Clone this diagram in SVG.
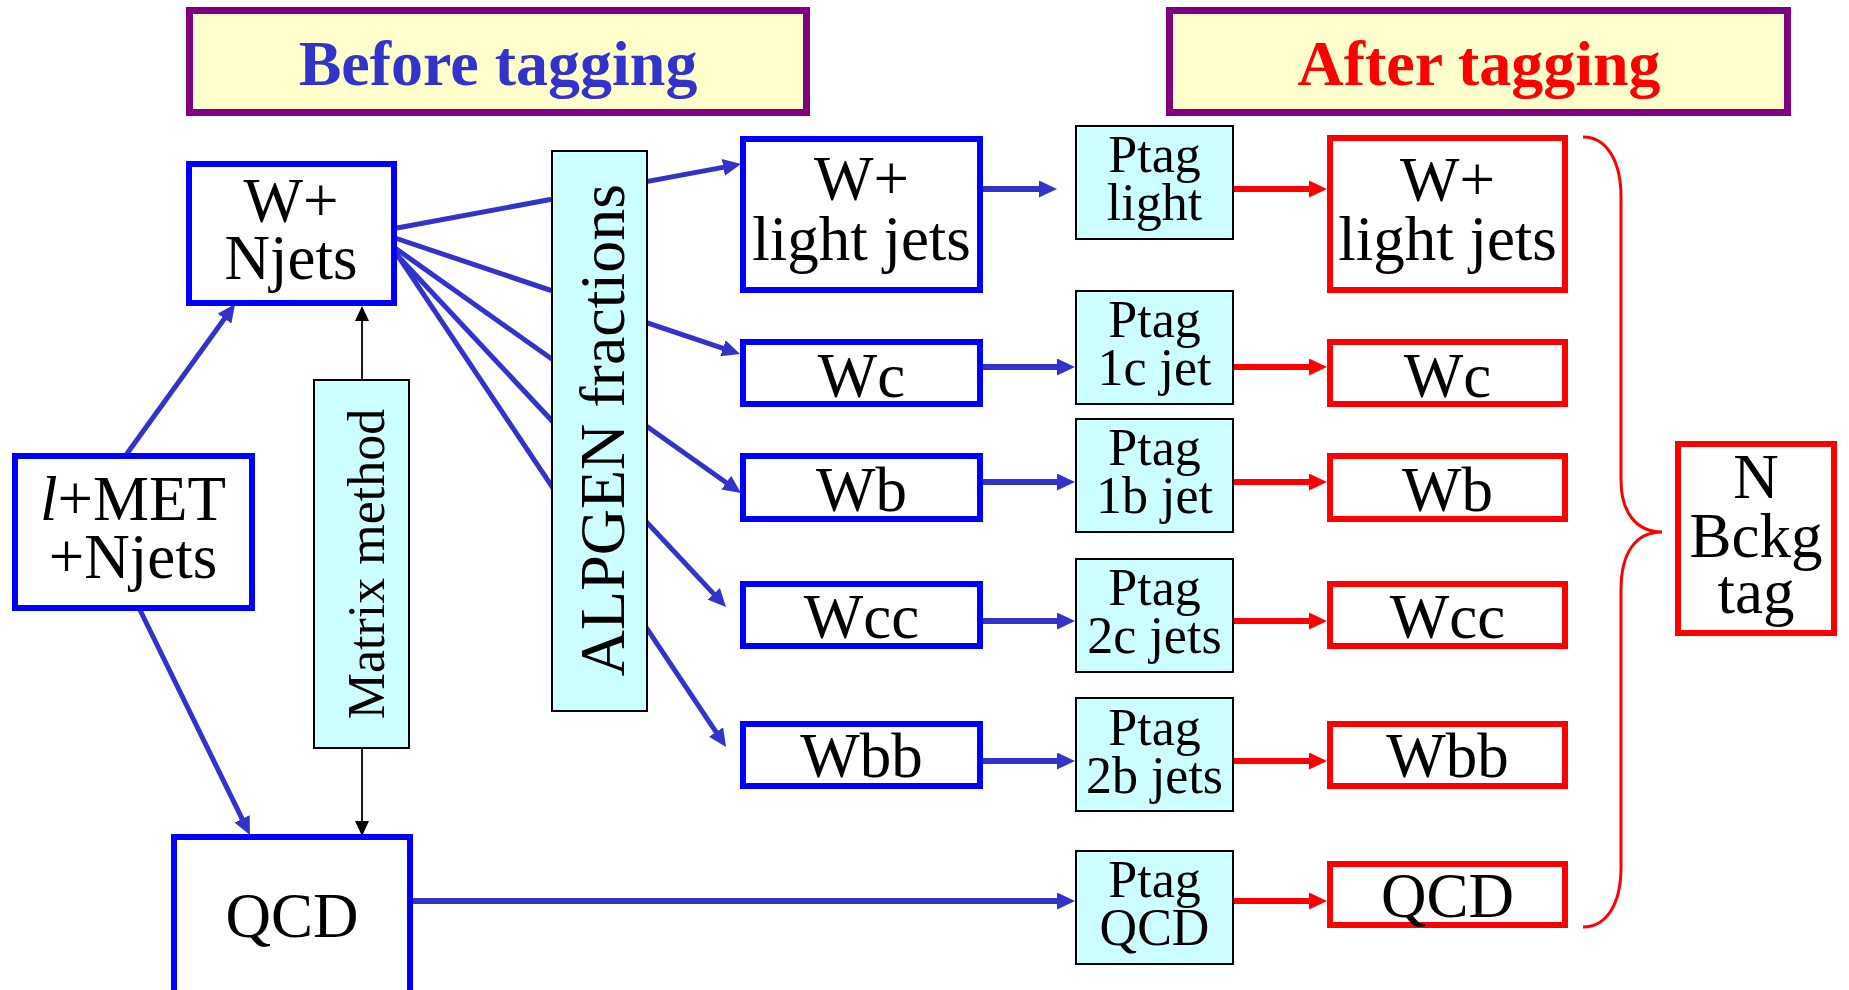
<svg xmlns="http://www.w3.org/2000/svg" width="1849" height="990" viewBox="0 0 1849 990">
<style>
text{font-family:"Liberation Serif","Times New Roman",serif;fill:#000;text-anchor:middle}
.title{font-weight:bold;font-size:64px}
.t63{font-size:63px}
.t52{font-size:52px}
.hdr{fill:#FFFFCC;stroke:#800080;stroke-width:7}
.bbox{fill:#fff;stroke:#0000FF;stroke-width:6}
.rbox{fill:#fff;stroke:#FF0000;stroke-width:6}
.cbox{fill:#CCFFFF;stroke:#000;stroke-width:2}
.bl{stroke:#3333CC;stroke-width:5;fill:none}
.blh{stroke:#3333CC;stroke-width:6;fill:none}
.rl{stroke:#FF0000;stroke-width:6;fill:none}
.kl{stroke:#000;stroke-width:1.8;fill:none}
</style>
<defs>
<marker id="ab" viewBox="0 0 18 17" refX="1" refY="8.5" markerWidth="18" markerHeight="17" markerUnits="userSpaceOnUse" orient="auto"><path d="M0,0 L18,8.5 L0,17 z" fill="#3333CC"/></marker>
<marker id="ar" viewBox="0 0 18 17" refX="1" refY="8.5" markerWidth="18" markerHeight="17" markerUnits="userSpaceOnUse" orient="auto"><path d="M0,0 L18,8.5 L0,17 z" fill="#FF0000"/></marker>
<marker id="ak" viewBox="0 0 15 14" refX="1" refY="7" markerWidth="15" markerHeight="14" markerUnits="userSpaceOnUse" orient="auto"><path d="M0,0 L15,7 L0,14 z" fill="#000"/></marker>
</defs>

<g id="connectors">
<line class="bl" x1="397" y1="228" x2="724.3" y2="167.1" marker-end="url(#ab)"/>
<line class="bl" x1="395" y1="238" x2="723.9" y2="348.6" marker-end="url(#ab)"/>
<line class="bl" x1="395" y1="248" x2="727.1" y2="483.2" marker-end="url(#ab)"/>
<line class="bl" x1="397" y1="255" x2="714.4" y2="594.6" marker-end="url(#ab)"/>
<line class="bl" x1="394" y1="250" x2="716.6" y2="732.9" marker-end="url(#ab)"/>
<line class="bl" x1="126" y1="455" x2="225.1" y2="317.8" marker-end="url(#ab)"/>
<line class="bl" x1="140" y1="610" x2="242.5" y2="819.7" marker-end="url(#ab)"/>
<line class="blh" x1="410" y1="901" x2="1058" y2="901" marker-end="url(#ab)"/>
<line class="blh" x1="983" y1="189" x2="1040" y2="189" marker-end="url(#ab)"/>
<line class="blh" x1="983" y1="367" x2="1058" y2="367" marker-end="url(#ab)"/>
<line class="blh" x1="983" y1="482" x2="1058" y2="482" marker-end="url(#ab)"/>
<line class="blh" x1="983" y1="621" x2="1058" y2="621" marker-end="url(#ab)"/>
<line class="blh" x1="983" y1="761" x2="1058" y2="761" marker-end="url(#ab)"/>
<line class="rl" x1="1234" y1="189" x2="1310" y2="189" marker-end="url(#ar)"/>
<line class="rl" x1="1234" y1="367" x2="1310" y2="367" marker-end="url(#ar)"/>
<line class="rl" x1="1234" y1="482" x2="1310" y2="482" marker-end="url(#ar)"/>
<line class="rl" x1="1234" y1="621" x2="1310" y2="621" marker-end="url(#ar)"/>
<line class="rl" x1="1234" y1="761" x2="1310" y2="761" marker-end="url(#ar)"/>
<line class="rl" x1="1234" y1="901" x2="1310" y2="901" marker-end="url(#ar)"/>
<line class="kl" x1="362" y1="379" x2="362" y2="320" marker-end="url(#ak)"/>
<line class="kl" x1="362" y1="748" x2="362" y2="822" marker-end="url(#ak)"/>
<path d="M1583,137 C1606,137 1621,160 1621,197 L1621,480 C1621,512 1636,532 1662,532 C1636,532 1621,552 1621,590 L1621,867 C1621,905 1606,927 1583,927" fill="none" stroke="#FF0000" stroke-width="3"/>
</g>

<g id="before-tagging"><rect class="hdr" x="189.5" y="10.5" width="617" height="102"/><text class="title" x="498" y="85" style="fill:#3333CC">Before tagging</text></g>
<g id="after-tagging"><rect class="hdr" x="1169.5" y="10.5" width="618" height="102"/><text class="title" x="1479" y="85" style="fill:#FF0000">After tagging</text></g>

<g id="wnjets"><rect class="bbox" x="189" y="164" width="205" height="139"/><text class="t63" x="291" y="222">W+</text><text class="t63" x="291" y="279">Njets</text></g>
<g id="lmet"><rect class="bbox" x="15" y="456" width="237" height="152"/><text class="t63" x="133" y="520"><tspan font-style="italic">l</tspan>+MET</text><text class="t63" x="133" y="578">+Njets</text></g>
<g id="qcd-before"><rect class="bbox" x="174" y="837" width="236" height="165"/><text class="t63" x="292" y="937">QCD</text></g>
<g id="matrix"><rect class="cbox" x="314" y="380" width="95" height="368"/><text class="t52" transform="translate(384,564) rotate(-90)">Matrix method</text></g>
<g id="alpgen"><rect class="cbox" x="552" y="151" width="95" height="560"/><text style="font-size:64px" transform="translate(624,430) rotate(-90)">ALPGEN fractions</text></g>

<g id="b-wlight"><rect class="bbox" x="743" y="139" width="237" height="151"/><text class="t63" x="861.5" y="200">W+</text><text class="t63" x="861.5" y="260">light jets</text></g>
<g id="b-wc"><rect class="bbox" x="743" y="342" width="237" height="62"/><text class="t63" x="861.5" y="397">Wc</text></g>
<g id="b-wb"><rect class="bbox" x="743" y="456" width="237" height="63"/><text class="t63" x="861.5" y="511">Wb</text></g>
<g id="b-wcc"><rect class="bbox" x="743" y="584" width="237" height="62"/><text class="t63" x="861.5" y="638">Wcc</text></g>
<g id="b-wbb"><rect class="bbox" x="743" y="724" width="237" height="62"/><text class="t63" x="861.5" y="777">Wbb</text></g>

<g id="p-light"><rect class="cbox" x="1076" y="126" width="157" height="113"/><text class="t52" x="1154.5" y="172">Ptag</text><text class="t52" x="1154.5" y="220">light</text></g>
<g id="p-1c"><rect class="cbox" x="1076" y="291" width="157" height="113"/><text class="t52" x="1154.5" y="337">Ptag</text><text class="t52" x="1154.5" y="385">1c jet</text></g>
<g id="p-1b"><rect class="cbox" x="1076" y="419" width="157" height="113"/><text class="t52" x="1154.5" y="465">Ptag</text><text class="t52" x="1154.5" y="513">1b jet</text></g>
<g id="p-2c"><rect class="cbox" x="1076" y="559" width="157" height="113"/><text class="t52" x="1154.5" y="605">Ptag</text><text class="t52" x="1154.5" y="653">2c jets</text></g>
<g id="p-2b"><rect class="cbox" x="1076" y="698" width="157" height="113"/><text class="t52" x="1154.5" y="745">Ptag</text><text class="t52" x="1154.5" y="793">2b jets</text></g>
<g id="p-qcd"><rect class="cbox" x="1076" y="851" width="157" height="113"/><text class="t52" x="1154.5" y="897">Ptag</text><text class="t52" x="1154.5" y="945">QCD</text></g>

<g id="r-wlight"><rect class="rbox" x="1330" y="138" width="235" height="152"/><text class="t63" x="1447.5" y="201">W+</text><text class="t63" x="1447.5" y="260">light jets</text></g>
<g id="r-wc"><rect class="rbox" x="1330" y="342" width="235" height="62"/><text class="t63" x="1447.5" y="397">Wc</text></g>
<g id="r-wb"><rect class="rbox" x="1330" y="456" width="235" height="63"/><text class="t63" x="1447.5" y="511">Wb</text></g>
<g id="r-wcc"><rect class="rbox" x="1330" y="584" width="235" height="62"/><text class="t63" x="1447.5" y="638">Wcc</text></g>
<g id="r-wbb"><rect class="rbox" x="1330" y="724" width="235" height="62"/><text class="t63" x="1447.5" y="777">Wbb</text></g>
<g id="r-qcd"><rect class="rbox" x="1330" y="864" width="235" height="61"/><text class="t63" x="1447.5" y="917">QCD</text></g>

<g id="nbckg"><rect class="rbox" x="1678" y="444" width="156" height="189"/><text class="t63" x="1756" y="498">N</text><text class="t63" x="1756" y="557">Bckg</text><text class="t63" x="1756" y="613">tag</text></g>
</svg>
